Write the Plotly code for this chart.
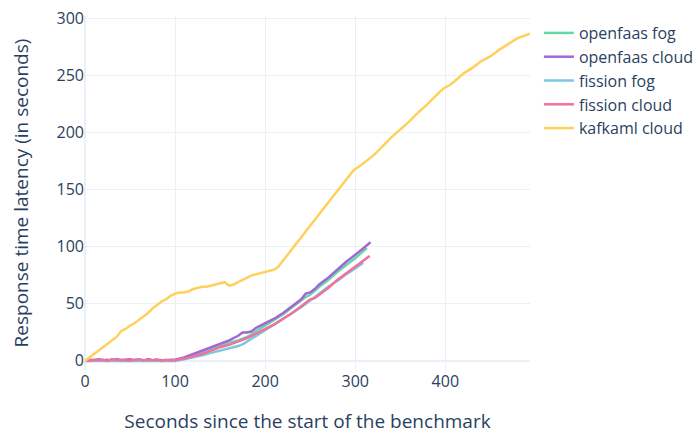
import plotly.graph_objects as go

# ---- data (seconds, latency in seconds) ----
kafka_x = [0, 5, 10, 15, 20, 25, 30, 35, 40, 45, 50, 55, 60, 65, 70, 75, 80, 85, 90, 95,
           100, 105, 110, 115, 120, 125, 130, 135, 140, 145, 150, 155, 160, 165, 170, 175,
           180, 185, 190, 195, 200, 205, 210, 214, 220, 230, 240, 250, 260, 270, 280, 290,
           298, 305, 310, 320, 330, 340, 350, 360, 370, 380, 390, 398, 405, 410, 420, 430,
           440, 450, 460, 470, 480, 487, 494]
kafka_y = [0, 3, 6, 9, 12, 15, 18, 21, 26, 28, 31, 33, 36, 39, 42, 46, 49, 52, 54, 57,
           59, 60, 60, 61, 63, 64, 65, 65, 66, 67, 68, 69, 66, 67, 69, 71,
           73, 75, 76, 77, 78, 79, 80, 82, 88, 98, 108, 118, 129, 139, 149, 159,
           167, 171, 174, 180, 188, 196, 203, 210, 218, 225, 233, 239, 242, 245, 252, 257,
           263, 267, 273, 278, 283, 285, 287]

of_fog_x = [0, 5, 10, 15, 20, 25, 30, 35, 40, 45, 50, 55, 60, 65, 70, 75, 80, 85, 90, 95,
            100, 110, 120, 130, 140, 150, 160, 170, 180, 190, 200, 210, 220, 230, 240, 245,
            250, 260, 270, 280, 290, 300, 310, 313]
of_fog_y = [0, 0.5, 0, 1, 0.5, 0, 1, 0.5, 0, 1, 0.5, 0, 1, 0.5, 0, 0.5, 1, 0, 0.5, 0,
            0.5, 2, 4, 7, 10, 13, 16, 18, 21, 26, 31, 36, 41, 47, 53, 56,
            58, 65, 71, 78, 84, 90, 97, 99]

of_cloud_x = [0, 5, 10, 15, 20, 25, 30, 35, 40, 45, 50, 55, 60, 65, 70, 75, 80, 85, 90, 95,
              100, 110, 120, 130, 140, 150, 160, 170, 175, 180, 185, 190, 200, 210, 220, 230,
              240, 245, 250, 255, 260, 270, 280, 290, 300, 310, 317]
of_cloud_y = [0, 1, 0.5, 1.5, 0.5, 1, 0, 1.5, 0.5, 1, 1.5, 0.5, 1, 0, 1.5, 0.5, 1, 0.5, 0, 1,
              1, 3, 6, 9, 12, 15, 18, 22, 25, 25, 26, 29, 33, 37, 42, 48,
              54, 59, 60, 63, 67, 73, 80, 87, 93, 99, 104]

fi_fog_x = [0, 5, 10, 15, 20, 25, 30, 35, 40, 45, 50, 55, 60, 65, 70, 75, 80, 85, 90, 95,
            100, 110, 120, 130, 140, 150, 160, 170, 176, 180, 190, 200, 210, 220, 230, 240,
            250, 260, 270, 280, 290, 300, 309]
fi_fog_y = [0, 0, 0.5, 0, 0, 0.5, 0, 0, 0.5, 0, 0, 0.5, 0, 0, 0.5, 0, 0, 0.5, 0, 0,
            0, 1.5, 3, 5, 7, 9, 11, 13, 15, 17, 22, 27, 32, 37, 42, 47,
            53, 59, 65, 70, 76, 81, 86]

fi_cloud_x = [0, 5, 10, 15, 20, 25, 30, 35, 40, 45, 50, 55, 60, 65, 70, 75, 80, 85, 90, 95,
              100, 110, 120, 130, 140, 150, 160, 170, 180, 190, 200, 210, 220, 230, 240, 250,
              255, 260, 270, 280, 290, 300, 310, 316]
fi_cloud_y = [0.5, 0, 1, 0.5, 1, 0, 1.5, 0.5, 1, 0.5, 0, 1, 1.5, 0.5, 1, 0.5, 1, 0, 1, 0.5,
              0.5, 2, 4, 6, 9, 12, 14, 17, 20, 24, 28, 32, 37, 42, 48, 54,
              55, 58, 64, 71, 77, 83, 89, 92]

names = ["openfaas fog", "openfaas cloud", "fission fog", "fission cloud", "kafkaml cloud"]
colors = ["#66d8a6", "#a366d6", "#79c9e3", "#f2709a", "#ffd15c"]
series = [(of_fog_x, of_fog_y), (of_cloud_x, of_cloud_y), (fi_fog_x, fi_fog_y),
          (fi_cloud_x, fi_cloud_y), (kafka_x, kafka_y)]

fig = go.Figure()
for name, color, (xs, ys) in zip(names, colors, series):
    fig.add_trace(go.Scatter(x=xs, y=ys, mode="lines", name=name,
                             line=dict(color=color, width=2.5)))

fig.update_layout(
    template="plotly_white",
    width=695, height=434,
    margin=dict(l=85, r=165, t=16, b=64, autoexpand=False),
    font=dict(family="Open Sans, sans-serif", size=16, color="#2a3f5f"),
    legend=dict(x=1.02, y=1, xanchor="left", yanchor="top", font=dict(size=16)),
    xaxis=dict(title=dict(text="Seconds since the start of the benchmark", standoff=29),
               range=[0, 494], tickvals=[0, 100, 200, 300, 400], automargin=False),
    yaxis=dict(title=dict(text="Response time latency (in seconds)", standoff=22),
               range=[-8, 302.5], tickvals=[0, 50, 100, 150, 200, 250, 300], automargin=False),
)

fig.write_html("out.html", config={"displayModeBar": False},
               post_script="document.body.style.margin='0';")
